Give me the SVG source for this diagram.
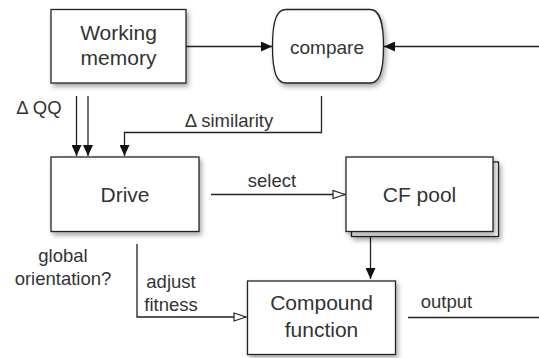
<svg xmlns="http://www.w3.org/2000/svg" width="539" height="358" viewBox="0 0 539 358">
<style>
.box{fill:#fff;stroke:#222;stroke-width:1.3;filter:url(#sh)}
.t{font-family:"Liberation Sans",Arial,sans-serif;fill:#333;text-anchor:middle}
.big{font-size:21px}
.lab{font-size:18.5px}
.ln{fill:none;stroke:#222;stroke-width:1.3}
</style>
<defs>
<filter id="sh" x="-20%" y="-20%" width="150%" height="160%">
<feDropShadow dx="2" dy="3" stdDeviation="2.5" flood-color="#000" flood-opacity="0.35"/>
</filter>
<marker id="af" markerWidth="12" markerHeight="10" refX="11" refY="5" orient="auto" markerUnits="userSpaceOnUse">
<path d="M0,0 L11,5 L0,10 Z" fill="#111"/>
</marker>
<marker id="ao" markerWidth="14" markerHeight="10" refX="13" refY="5" orient="auto" markerUnits="userSpaceOnUse">
<path d="M1,1 L13,5 L1,9 Z" fill="#fff" stroke="#222" stroke-width="1.2"/>
</marker>
</defs>
<g id="connectors">
<line class="ln" x1="186" y1="46.5" x2="272" y2="46.5" marker-end="url(#af)"/>
<line class="ln" x1="539" y1="46.5" x2="384" y2="46.5" marker-end="url(#af)"/>
<line class="ln" x1="76.5" y1="96" x2="76.5" y2="156" marker-end="url(#af)"/>
<line class="ln" x1="88" y1="96" x2="88" y2="156" marker-end="url(#af)"/>
<polyline class="ln" points="321.5,96 321.5,132.5 124.5,132.5 124.5,156" marker-end="url(#af)"/>
<line class="ln" x1="211" y1="194.5" x2="345" y2="194.5" marker-end="url(#ao)"/>
<line class="ln" x1="370.5" y1="237" x2="370.5" y2="279" marker-end="url(#af)"/>
<polyline class="ln" points="137,244 137,317 246,317" marker-end="url(#ao)"/>
<line class="ln" x1="408" y1="317.5" x2="539" y2="317.5"/>
<text class="t lab" x="39" y="113.5">Δ QQ</text>
<text class="t lab" x="229" y="127">Δ similarity</text>
<text class="t lab" x="272" y="187">select</text>
<text class="t lab" x="446.5" y="307.5">output</text>
<text class="t lab" x="63" y="261.5">global</text>
<text class="t lab" x="63" y="285">orientation?</text>
<text class="t lab" x="171" y="288">adjust</text>
<text class="t lab" x="171" y="310.5">fitness</text>
</g>
<g id="working-memory">
<rect class="box" x="51" y="9.5" width="135" height="73.5"/>
<text class="t big" x="118.5" y="39.5">Working</text>
<text class="t big" x="118.5" y="65">memory</text>
</g>
<g id="compare">
<path class="box" d="M286,9.5 H370 C379,9.5 383.5,20 383.5,46.5 C383.5,73 379,83 370,83 H286 C277,83 272.5,73 272.5,46.5 C272.5,20 277,9.5 286,9.5 Z"/>
<text class="t" style="font-size:19px" x="327" y="54">compare</text>
</g>
<g id="drive">
<rect class="box" x="51" y="157" width="148" height="74.5"/>
<text class="t big" x="125" y="201.5">Drive</text>
</g>
<g id="cf-pool">
<rect class="box" x="351.5" y="162" width="147" height="74.5"/>
<rect class="box" x="346" y="157" width="147" height="74.5"/>
<text class="t big" x="419.5" y="201.5">CF pool</text>
</g>
<g id="compound-function">
<rect class="box" x="247.5" y="281" width="148" height="73.5"/>
<text class="t big" x="321.5" y="310">Compound</text>
<text class="t big" x="321.5" y="336.5">function</text>
</g>
</svg>
